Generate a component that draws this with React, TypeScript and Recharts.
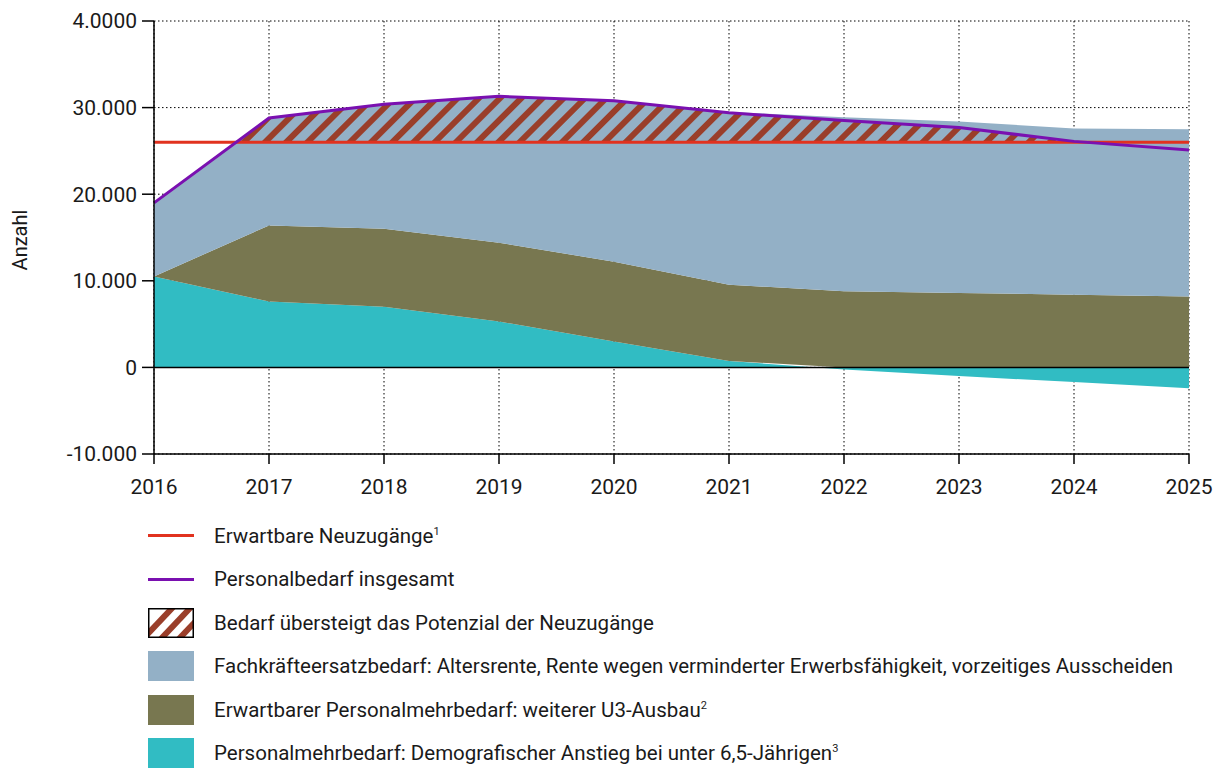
import React from 'react';
import { AreaChart, Area, Line, XAxis, YAxis, CartesianGrid, ReferenceLine } from 'recharts';

// Jahre
const years = [2016, 2017, 2018, 2019, 2020, 2021, 2022, 2023, 2024, 2025];

// Personalmehrbedarf: demografischer Anstieg bei unter 6,5-Jährigen
const demografie = [10500, 7600, 7000, 5300, 3000, 750, -250, -1000, -1700, -2400];
// Erwartbarer Personalmehrbedarf: weiterer U3-Ausbau
const u3Ausbau = [0, 8800, 9000, 9100, 9200, 8800, 8800, 8600, 8400, 8200];
// Fachkräfteersatzbedarf
const ersatzbedarf = [8500, 12400, 14400, 16900, 18600, 19950, 20100, 19800, 19200, 19300];
// Personalbedarf insgesamt
const personalbedarf = [19000, 28800, 30400, 31300, 30800, 29400, 28500, 27700, 26100, 25100];
// Erwartbare Neuzugänge
const neuzugaenge = [26000, 26000, 26000, 26000, 26000, 26000, 26000, 26000, 26000, 26000];

const yTicks = [-10000, 0, 10000, 20000, 30000, 40000];
const yTickLabels = ['-10.000', '0', '10.000', '20.000', '30.000', '4.0000'];

const C_RED = '#e1321f';
const C_PURPLE = '#7a10b0';
const C_BLUE = '#93b0c6';
const C_OLIVE = '#787750';
const C_CYAN = '#31bcc3';
const C_STRIPE = '#9a3e2a';
const FONT = 'Roboto, "Open Sans", sans-serif';

const data = years.map((year, i) => {
  const base = Math.max(demografie[i], 0);
  const u3Top = base + u3Ausbau[i];
  return {
    year,
    demo: [0, demografie[i]],
    u3: [base, u3Top],
    ersatz: [u3Top, u3Top + ersatzbedarf[i]],
    gesamt: personalbedarf[i],
    neu: neuzugaenge[i],
  };
});

// Bereich, in dem der Bedarf die Neuzugänge übersteigt (inkl. Schnittpunkte)
function excessData() {
  const out: { year: number; excess: number[] }[] = [];
  for (let i = 0; i < years.length; i++) {
    const d = personalbedarf[i] - neuzugaenge[i];
    if (i > 0) {
      const dp = personalbedarf[i - 1] - neuzugaenge[i - 1];
      if ((dp < 0 && d > 0) || (dp > 0 && d < 0)) {
        const t = dp / (dp - d);
        const x = years[i - 1] + t * (years[i] - years[i - 1]);
        const n = neuzugaenge[i - 1] + t * (neuzugaenge[i] - neuzugaenge[i - 1]);
        out.push({ year: x, excess: [n, n] });
      }
    }
    if (d >= 0) out.push({ year: years[i], excess: [neuzugaenge[i], personalbedarf[i]] });
  }
  return out;
}
const hatch = excessData();

const legendItems = [
  { kind: 'line', color: C_RED, text: 'Erwartbare Neuzugänge', sup: '1' },
  { kind: 'line', color: C_PURPLE, text: 'Personalbedarf insgesamt' },
  { kind: 'hatch', color: C_STRIPE, text: 'Bedarf übersteigt das Potenzial der Neuzugänge' },
  { kind: 'box', color: C_BLUE, text: 'Fachkräfteersatzbedarf: Altersrente, Rente wegen verminderter Erwerbsfähigkeit, vorzeitiges Ausscheiden' },
  { kind: 'box', color: C_OLIVE, text: 'Erwartbarer Personalmehrbedarf: weiterer U3-Ausbau', sup: '2' },
  { kind: 'box', color: C_CYAN, text: 'Personalmehrbedarf: Demografischer Anstieg bei unter 6,5-Jährigen', sup: '3' },
];

function LegendIcon({ kind, color }: { kind: string; color: string }) {
  if (kind === 'line') {
    return <div style={{ width: 46, height: 3, background: color }} />;
  }
  if (kind === 'box') {
    return <div style={{ width: 46, height: 30, background: color }} />;
  }
  return (
    <svg width={46} height={30}>
      <defs>
        <clipPath id="legHatchClip">
          <rect x={0} y={0} width={46} height={30} />
        </clipPath>
      </defs>
      <rect x={0} y={0} width={46} height={30} fill="#fff" />
      <g clipPath="url(#legHatchClip)" stroke={color} strokeWidth={6}>
        <line x1={-8} y1={34} x2={28} y2={-4} />
        <line x1={10} y1={34} x2={46} y2={-4} />
        <line x1={28} y1={34} x2={64} y2={-4} />
      </g>
      <rect x={0.75} y={0.75} width={44.5} height={28.5} fill="none" stroke="#000" strokeWidth={1.5} />
    </svg>
  );
}

export default function App() {
  const tickStyle = { fontFamily: FONT, fontSize: 21, fill: '#1a1a1a' };
  return (
    <div style={{ position: 'absolute', left: 0, top: 0, width: 1219, height: 769, background: '#fff', fontFamily: FONT }}>
      <div
        style={{
          position: 'absolute', left: 20, top: 240, transform: 'translate(-50%, -50%) rotate(-90deg)',
          fontSize: 20, color: '#1a1a1a', whiteSpace: 'nowrap',
        }}
      >
        Anzahl
      </div>
      <AreaChart width={1219} height={510} data={data} margin={{ top: 21, right: 30, left: 0, bottom: 0 }}>
        <defs>
          <pattern id="hatchFill" width={15} height={15} patternUnits="userSpaceOnUse" patternTransform="rotate(45)">
            <rect x={0} y={0} width={15} height={15} fill={C_BLUE} />
            <rect x={0} y={0} width={6} height={15} fill={C_STRIPE} />
          </pattern>
        </defs>
        <CartesianGrid stroke="#000" strokeDasharray="1.5 2.5" strokeWidth={1} />
        <XAxis
          dataKey="year"
          type="number"
          domain={[2016, 2025]}
          ticks={years}
          allowDecimals={false}
          height={56}
          tickSize={10}
          tickMargin={15}
          tick={tickStyle}
          axisLine={{ stroke: '#000', strokeWidth: 1.5 }}
          tickLine={{ stroke: '#000', strokeWidth: 1.5 }}
        />
        <YAxis
          width={154}
          domain={[-10000, 40000]}
          ticks={yTicks}
          tickFormatter={(v: number) => yTickLabels[yTicks.indexOf(v)]}
          tickSize={12}
          tickMargin={5}
          tick={tickStyle}
          axisLine={{ stroke: '#000', strokeWidth: 1.5 }}
          tickLine={{ stroke: '#000', strokeWidth: 1.5 }}
        />
        <Area dataKey="demo" type="linear" stroke="none" fill={C_CYAN} fillOpacity={1} isAnimationActive={false} />
        <Area dataKey="u3" type="linear" stroke="none" fill={C_OLIVE} fillOpacity={1} isAnimationActive={false} />
        <Area dataKey="ersatz" type="linear" stroke="none" fill={C_BLUE} fillOpacity={1} isAnimationActive={false} />
        <Area data={hatch} dataKey="excess" type="linear" stroke="none" fill="url(#hatchFill)" fillOpacity={1} isAnimationActive={false} />
        <ReferenceLine y={0} stroke="#000" strokeWidth={1.5} />
        <Line dataKey="neu" type="linear" stroke={C_RED} strokeWidth={3} dot={false} activeDot={false} isAnimationActive={false} />
        <Line dataKey="gesamt" type="linear" stroke={C_PURPLE} strokeWidth={3} dot={false} activeDot={false} isAnimationActive={false} />
      </AreaChart>
      <div style={{ position: 'absolute', left: 148, top: 514 }}>
        {legendItems.map((item) => (
          <div key={item.text} style={{ display: 'flex', alignItems: 'center', height: 43.5 }}>
            <div style={{ width: 66, display: 'flex', alignItems: 'center' }}>
              <LegendIcon kind={item.kind} color={item.color} />
            </div>
            <span style={{ fontSize: 20.5, color: '#1a1a1a', whiteSpace: 'nowrap' }}>
              {item.text}
              {item.sup ? <sup style={{ fontSize: 11 }}>{item.sup}</sup> : null}
            </span>
          </div>
        ))}
      </div>
    </div>
  );
}
